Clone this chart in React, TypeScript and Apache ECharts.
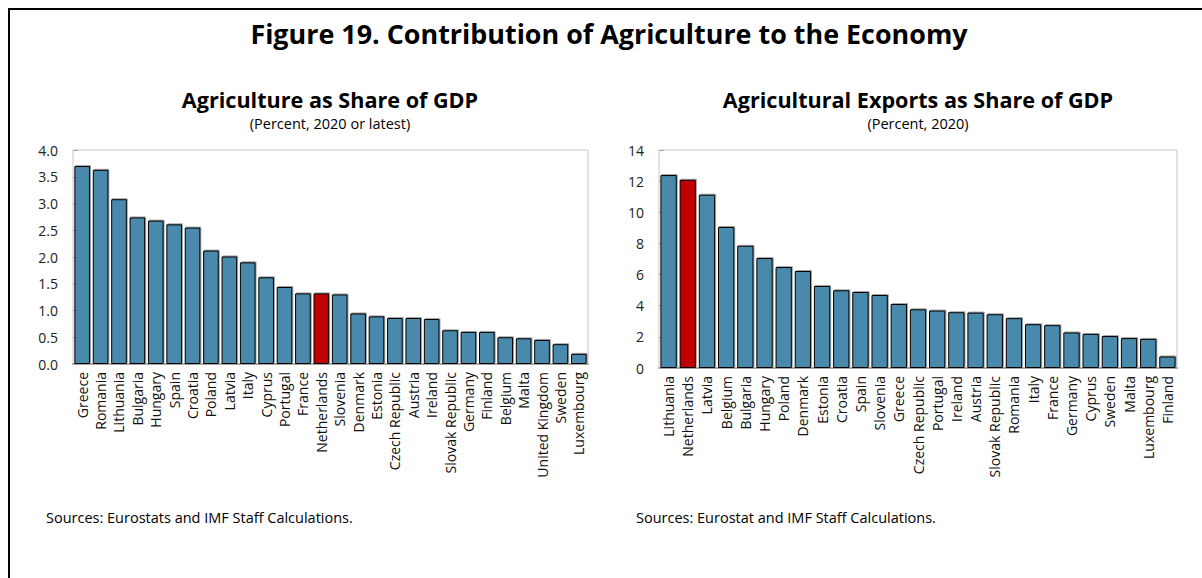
import React, { useEffect, useRef } from "react";
import * as echarts from "echarts";

const leftCategories = [
  "Greece", "Romania", "Lithuania", "Bulgaria", "Hungary", "Spain", "Croatia", "Poland",
  "Latvia", "Italy", "Cyprus", "Portugal", "France", "Netherlands", "Slovenia", "Denmark",
  "Estonia", "Czech Republic", "Austria", "Ireland", "Slovak Republic", "Germany", "Finland",
  "Belgium", "Malta", "United Kingdom", "Sweden", "Luxembourg",
];
const leftValues = [
  3.70, 3.63, 3.08, 2.74, 2.68, 2.61, 2.55, 2.12, 2.01, 1.90, 1.62, 1.44, 1.32, 1.32, 1.30,
  0.945, 0.89, 0.86, 0.86, 0.84, 0.63, 0.60, 0.60, 0.50, 0.48, 0.45, 0.37, 0.19,
];
const leftTicks = { min: 0, max: 4, interval: 0.5 };

const rightCategories = [
  "Lithuania", "Netherlands", "Latvia", "Belgium", "Bulgaria", "Hungary", "Poland", "Denmark",
  "Estonia", "Croatia", "Spain", "Slovenia", "Greece", "Czech Republic", "Portugal", "Ireland",
  "Austria", "Slovak Republic", "Romania", "Italy", "France", "Germany", "Cyprus", "Sweden",
  "Malta", "Luxembourg", "Finland",
];
const rightValues = [
  12.39, 12.09, 11.13, 9.06, 7.85, 7.06, 6.48, 6.23, 5.27, 4.99, 4.88, 4.69, 4.11, 3.77,
  3.69, 3.58, 3.56, 3.45, 3.20, 2.81, 2.75, 2.28, 2.19, 2.05, 1.92, 1.87, 0.74,
];
const rightTicks = { min: 0, max: 14, interval: 2 };

const highlight = "Netherlands";

const FONT = "'Open Sans', 'Noto Sans', sans-serif";
const BLUE = "#4a89ab";
const RED = "#c00000";

function toData(cats: string[], vals: number[]) {
  return vals.map((v, i) => ({
    value: v,
    itemStyle: { color: cats[i] === highlight ? RED : BLUE },
  }));
}

export default function App() {
  const ref = useRef<HTMLDivElement>(null);
  useEffect(() => {
    if (!ref.current) return;
    const chart = echarts.init(ref.current, undefined, { renderer: "svg" });
    const xAxisCommon = {
      type: "category" as const,
      axisLine: { show: true, lineStyle: { color: "#a6a6a6", width: 2 } },
      axisTick: { show: false },
      axisLabel: {
        rotate: 90,
        interval: 0,
        fontFamily: FONT,
        fontSize: 14,
        color: "#111",
        margin: 8,
      },
      splitLine: { show: false },
    };
    const yAxisCommon = {
      type: "value" as const,
      axisLine: { show: false },
      axisTick: { show: true, inside: true, length: 5, lineStyle: { color: "#a6a6a6" } },
      splitLine: { show: false },
      axisLabel: { fontFamily: FONT, fontSize: 14, color: "#222", margin: 15 },
    };
    const barCommon = {
      type: "bar" as const,
      barCategoryGap: "15%",
      itemStyle: {
        borderColor: "#000",
        borderWidth: 1,
        shadowColor: "rgba(0,0,0,0.35)",
        shadowOffsetX: 1,
        shadowOffsetY: -1,
        shadowBlur: 0,
      },
    };
    const txt = (text: string, x: number, y: number, font: string, align = "center") => ({
      type: "text",
      style: { text, x, y, align, verticalAlign: "middle", font, fill: "#000" },
    });
    chart.setOption({
      animation: false,
      grid: [
        { left: 73, top: 150, width: 515, height: 214, show: true, borderColor: "#c8c8c8", borderWidth: 1, backgroundColor: "transparent" },
        { left: 659, top: 150, width: 518, height: 218, show: true, borderColor: "#c8c8c8", borderWidth: 1, backgroundColor: "transparent" },
      ],
      xAxis: [
        { ...xAxisCommon, gridIndex: 0, data: leftCategories },
        { ...xAxisCommon, gridIndex: 1, data: rightCategories },
      ],
      yAxis: [
        { ...yAxisCommon, gridIndex: 0, ...leftTicks, axisLabel: { ...yAxisCommon.axisLabel, formatter: (v: number) => v.toFixed(1) } },
        { ...yAxisCommon, gridIndex: 1, ...rightTicks },
      ],
      series: [
        { ...barCommon, xAxisIndex: 0, yAxisIndex: 0, data: toData(leftCategories, leftValues) },
        { ...barCommon, xAxisIndex: 1, yAxisIndex: 1, data: toData(rightCategories, rightValues) },
      ],
      graphic: [
        { type: "line", shape: { x1: 8, y1: 9, x2: 1202, y2: 9 }, style: { stroke: "#000", lineWidth: 2 } },
        { type: "line", shape: { x1: 9, y1: 8, x2: 9, y2: 578 }, style: { stroke: "#000", lineWidth: 2 } },
        txt("Figure 19. Contribution of Agriculture to the Economy", 609, 33, `bold 26.9px ${FONT}`),
        txt("Agriculture as Share of GDP", 330, 99, `bold 21.6px ${FONT}`),
        txt("(Percent, 2020 or latest)", 330, 123, `14.5px ${FONT}`),
        txt("Agricultural Exports as Share of GDP", 918, 99, `bold 21.6px ${FONT}`),
        txt("(Percent, 2020)", 918, 123, `14.5px ${FONT}`),
        txt("Sources: Eurostats and IMF Staff Calculations.", 46, 517, `14.5px ${FONT}`, "left"),
        txt("Sources: Eurostat and IMF Staff Calculations.", 636, 517, `14.5px ${FONT}`, "left"),
      ],
    });
    return () => chart.dispose();
  }, []);
  return (
    <div
      ref={ref}
      style={{ position: "absolute", left: 0, top: 0, width: 1202, height: 578, background: "#fff" }}
    />
  );
}
